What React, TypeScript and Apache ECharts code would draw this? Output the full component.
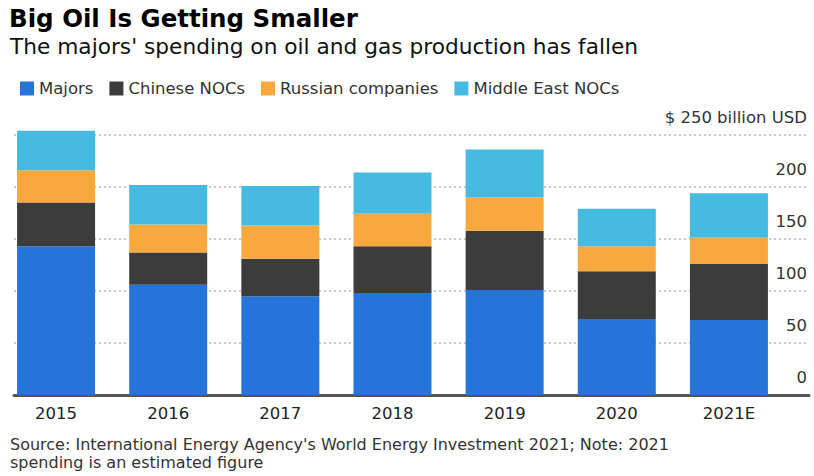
import React, { useEffect, useRef } from "react";
import * as echarts from "echarts";

const categories = ["2015", "2016", "2017", "2018", "2019", "2020", "2021E"];
const majors = [143, 106, 95, 98, 101, 73, 72];
const chineseNOCs = [42, 31, 36, 45, 57, 46, 54];
const russianCompanies = [31, 27, 32, 32, 32, 24, 26];
const middleEastNOCs = [38, 38, 38, 39, 46, 36, 42];
const seriesNames = ["Majors", "Chinese NOCs", "Russian companies", "Middle East NOCs"];
const colors = ["#2474DA", "#3C3C3C", "#F9A83E", "#46BBE2"];
const titleText = "Big Oil Is Getting Smaller";
const subtitleText = "The majors' spending on oil and gas production has fallen";
const sourceText =
  "Source: International Energy Agency's World Energy Investment 2021; Note: 2021\nspending is an estimated figure";

const FONT = '"DejaVu Sans", sans-serif';

export default function App() {
  const ref = useRef<HTMLDivElement>(null);
  useEffect(() => {
    if (!ref.current) return;
    const chart = echarts.init(ref.current, undefined, { renderer: "svg" });
    const data = [majors, chineseNOCs, russianCompanies, middleEastNOCs];
    chart.setOption({
      animation: false,
      backgroundColor: "#ffffff",
      textStyle: { fontFamily: FONT },
      color: colors,
      graphic: [
        {
          type: "text",
          left: 9,
          top: 6,
          style: { text: titleText, fontFamily: FONT, fontWeight: "bold", fontSize: 24.5, fill: "#000" },
        },
        {
          type: "text",
          left: 10,
          top: 35,
          style: { text: subtitleText, fontFamily: FONT, fontSize: 21.7, fill: "#111" },
        },
        {
          type: "text",
          left: 10,
          top: 435,
          style: { text: sourceText, fontFamily: FONT, fontSize: 16, lineHeight: 18.5, fill: "#333" },
        },
      ],
      legend: {
        left: 15,
        top: 75,
        icon: "rect",
        itemWidth: 14,
        itemHeight: 14,
        itemGap: 16,
        textStyle: { fontFamily: FONT, fontSize: 16.5, color: "#333" },
        data: seriesNames,
      },
      grid: [
        { left: -3, right: 29, top: 395 - 260 * 1.04, bottom: 81 },
        { left: 14, right: 5, top: 135, bottom: 81 },
      ],
      xAxis: [
        {
          type: "category",
          gridIndex: 0,
          data: categories,
          axisLine: { show: false },
          axisTick: { show: false },
          axisLabel: { fontFamily: FONT, fontSize: 16.5, color: "#222", margin: 10 },
        },
        {
          type: "category",
          gridIndex: 1,
          data: categories,
          axisLine: { show: true, lineStyle: { color: "#555", width: 3 } },
          axisTick: { show: false },
          axisLabel: { show: false },
        },
      ],
      yAxis: [
        {
          type: "value",
          gridIndex: 0,
          min: 0,
          max: 260,
          show: false,
          splitLine: { show: false },
        },
        {
          type: "value",
          gridIndex: 1,
          min: 0,
          max: 250,
          interval: 50,
          position: "right",
          axisLine: { show: false },
          axisTick: { show: false },
          splitLine: { show: true, lineStyle: { color: "#b8b8b8", width: 1.5, type: [2, 3] } },
          axisLabel: {
            inside: true,
            margin: 2,
            align: "right",
            verticalAlign: "bottom",
            padding: [0, 0, 9, 0],
            fontFamily: FONT,
            fontSize: 16.5,
            color: "#333",
            formatter: (v: number) => (v === 250 ? "$ 250 billion USD" : String(v)),
          },
        },
      ],
      series: seriesNames.map((name, i) => ({
        name,
        type: "bar",
        stack: "total",
        xAxisIndex: 0,
        yAxisIndex: 0,
        barWidth: 78,
        data: data[i],
        itemStyle: { color: colors[i] },
      })),
    });
    return () => chart.dispose();
  }, []);
  return (
    <div
      ref={ref}
      style={{ position: "fixed", left: 0, top: 0, width: 814, height: 476, background: "#fff" }}
    />
  );
}
